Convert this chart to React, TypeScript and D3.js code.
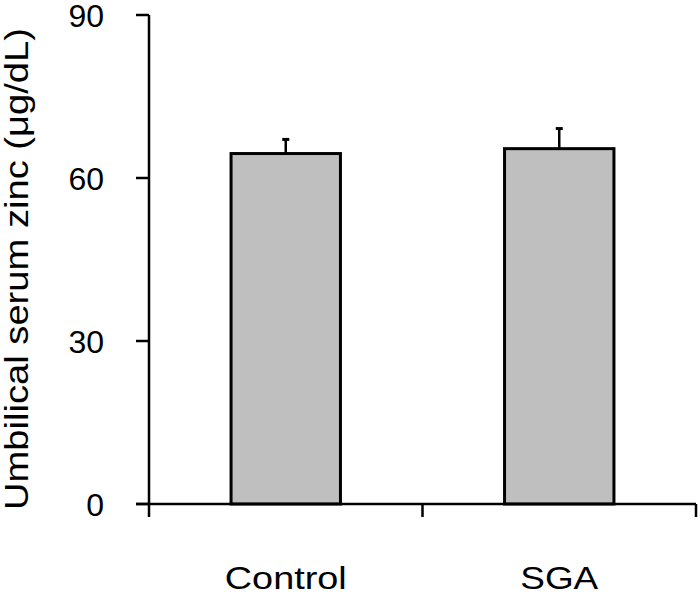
import React from "react";
import * as d3 from "d3";

const categories = ["Control", "SGA"];
const means = [64.5, 65.4];
const errors = [2.6, 3.7];
const yTicks = [0, 30, 60, 90];
const yLabel = "Umbilical serum zinc (μg/dL)";

export default function App() {
  const W = 700;
  const H = 595;
  const y = d3.scaleLinear().domain([0, 90]).range([504, 15]);
  const x = d3
    .scaleBand<string>()
    .domain(categories)
    .range([149, 696])
    .paddingInner(0.6)
    .paddingOuter(0.3);
  const step = x.step();
  const bw = x.bandwidth();
  const boundaries = [
    x.range()[0],
    ...categories.slice(0, -1).map((c) => (x(c) as number) + bw + (step - bw) / 2),
    x.range()[1],
  ];
  const font = "'Liberation Sans', Arial, sans-serif";
  const labelLengths: Record<string, number> = { Control: 122, SGA: 78 };

  return (
    <svg
      width={W}
      height={H}
      style={{ position: "absolute", left: 0, top: 0, background: "#fff" }}
      fontFamily={font}
    >
      {/* bars */}
      {categories.map((c, i) => {
        const x0 = x(c) as number;
        const cx = x0 + bw / 2;
        return (
          <g key={c}>
            <line x1={cx} x2={cx} y1={y(means[i])} y2={y(means[i] + errors[i])} stroke="#000" strokeWidth={2.5} />
            <line x1={cx - 3.5} x2={cx + 3.5} y1={y(means[i] + errors[i])} y2={y(means[i] + errors[i])} stroke="#000" strokeWidth={3} />
            <rect x={x0} y={y(means[i])} width={bw} height={y(0) - y(means[i])} fill="#bfbfbf" stroke="#000" strokeWidth={3} />
          </g>
        );
      })}
      {/* y axis */}
      <line x1={149} x2={149} y1={y(90)} y2={y(0)} stroke="#000" strokeWidth={2.5} />
      {yTicks.map((t) => (
        <g key={t}>
          <line x1={136} x2={149} y1={y(t)} y2={y(t)} stroke="#000" strokeWidth={2.5} />
          <text x={104} y={y(t)} dy="0.36em" textAnchor="end" fontSize={32} fill="#000">
            {t}
          </text>
        </g>
      ))}
      {/* x axis */}
      <line x1={136} x2={x.range()[1]} y1={y(0)} y2={y(0)} stroke="#000" strokeWidth={2.5} />
      {boundaries.map((b, i) => (
        <line key={i} x1={b} x2={b} y1={y(0)} y2={y(0) + 13} stroke="#000" strokeWidth={2.5} />
      ))}
      {categories.map((c) => (
        <text
          key={c}
          x={(x(c) as number) + bw / 2}
          y={589}
          textAnchor="middle"
          fontSize={32}
          textLength={labelLengths[c]}
          lengthAdjust="spacingAndGlyphs"
          fill="#000"
        >
          {c}
        </text>
      ))}
      {/* y label */}
      <text
        transform={`translate(28,269) rotate(-90)`}
        textAnchor="middle"
        fontSize={33}
        textLength={482}
        lengthAdjust="spacingAndGlyphs"
        fill="#000"
      >
        {yLabel}
      </text>
    </svg>
  );
}
